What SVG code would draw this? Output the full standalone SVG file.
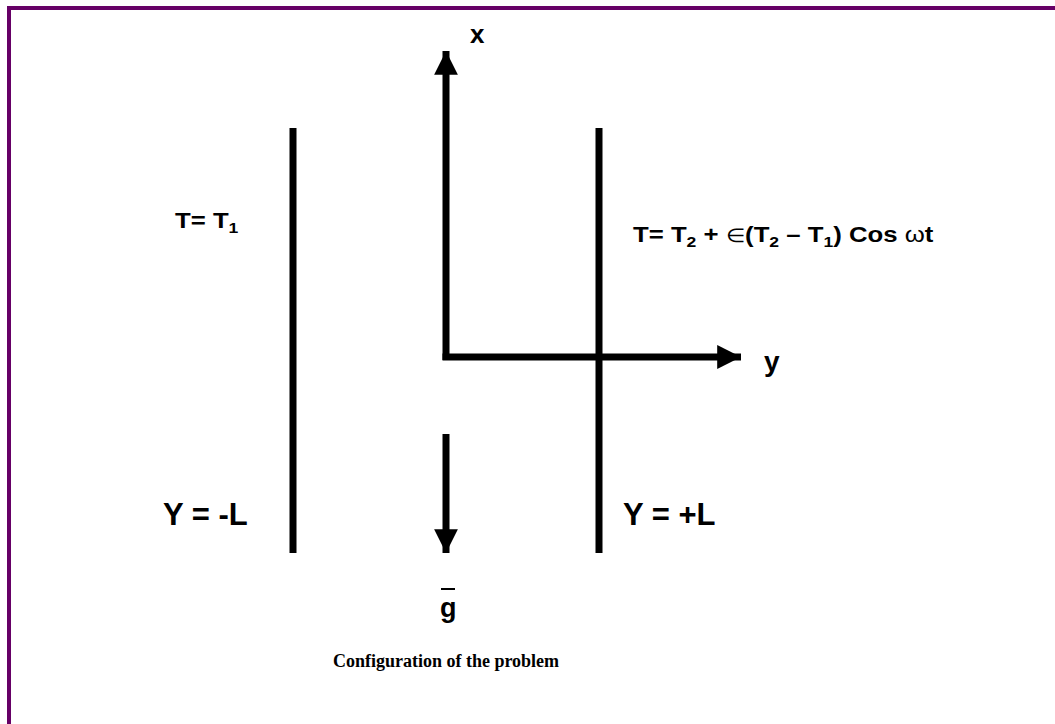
<svg xmlns="http://www.w3.org/2000/svg" width="1055" height="724" viewBox="0 0 1055 724">
<style>
.lbl{font-family:"Liberation Sans",Arial,sans-serif;font-weight:bold;fill:#000}
.cap{font-family:"Liberation Serif","Times New Roman",serif;font-weight:bold;fill:#000}
.plate{stroke:#000;stroke-width:7;fill:none}
.ax{stroke:#000;stroke-width:7;fill:none}
.sub{font-size:15px}
</style>
<defs>
<marker id="ah" viewBox="0 0 10 10" refX="10" refY="5" markerWidth="3.4" markerHeight="3.4" markerUnits="strokeWidth" orient="auto">
<path d="M0,0 L10,5 L0,10 Z" fill="#000"/>
</marker>
</defs>
<rect width="1055" height="724" fill="#fff"/>
<g id="frame">
<path d="M9,724 V8 H1055" stroke="#660066" stroke-width="4" fill="none"/>
</g>
<g id="plate-left">
<line class="plate" x1="293" y1="128" x2="293" y2="553"/>
<text class="lbl" transform="translate(175,228) scale(1.17,1)" font-size="22">T= T<tspan class="sub" dy="5">1</tspan></text>
<text class="lbl" x="163" y="525" font-size="31">Y = -L</text>
</g>
<g id="plate-right">
<line class="plate" x1="599" y1="128" x2="599" y2="553"/>
<text class="lbl" transform="translate(633,242) scale(1.17,1)" font-size="22">T= T<tspan class="sub" dy="5">2</tspan><tspan dy="-5"> + </tspan><tspan font-weight="normal" font-size="19">∈</tspan>(T<tspan class="sub" dy="5">2</tspan><tspan dy="-5"> – T</tspan><tspan class="sub" dy="5">1</tspan><tspan dy="-5">) Cos </tspan><tspan font-weight="normal">ω</tspan>t</text>
<text class="lbl" x="623" y="525" font-size="31">Y = +L</text>
</g>
<g id="connectors">
<line class="ax" x1="446" y1="360" x2="446" y2="51" marker-end="url(#ah)"/>
<line class="ax" x1="442.5" y1="357" x2="741" y2="357" marker-end="url(#ah)"/>
<line class="ax" x1="446" y1="434" x2="446" y2="553" marker-end="url(#ah)"/>
</g>
<g id="axis-labels">
<text class="lbl" x="470" y="43" font-size="26">x</text>
<text class="lbl" x="764" y="371" font-size="28">y</text>
<text class="lbl" x="440" y="617" font-size="27">g</text>
<line x1="441" y1="589" x2="455" y2="589" stroke="#000" stroke-width="2"/>
</g>
<g id="caption">
<text class="cap" x="446" y="667" font-size="18" text-anchor="middle">Configuration of the problem</text>
</g>
</svg>
